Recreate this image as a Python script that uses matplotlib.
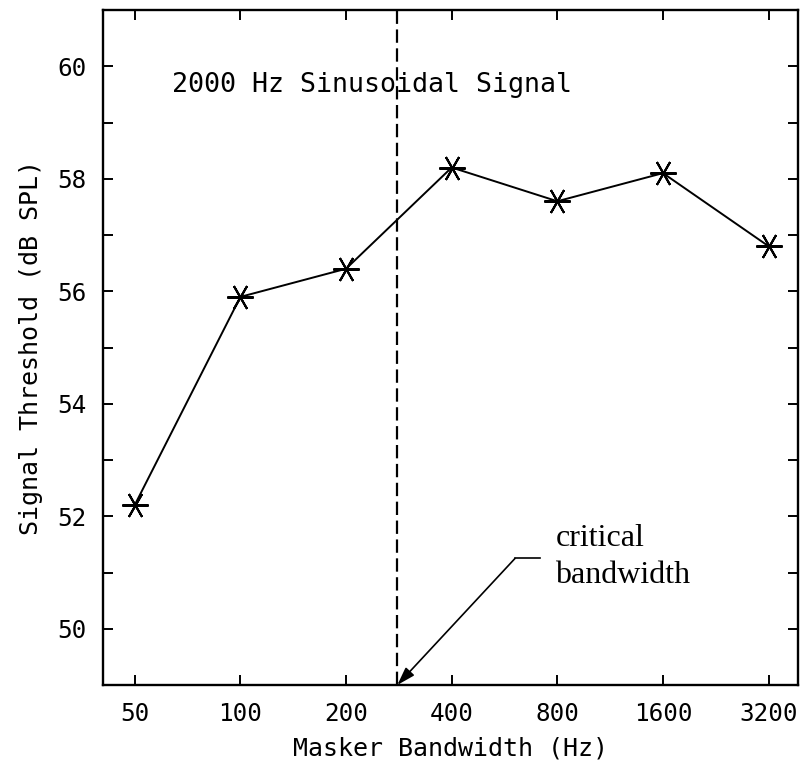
import matplotlib
matplotlib.use("Agg")
import matplotlib.pyplot as plt
import numpy as np

bandwidths = [50, 100, 200, 400, 800, 1600, 3200]
thresholds = [52.2, 55.9, 56.4, 58.2, 57.6, 58.1, 56.8]
tick_labels = ["50", "100", "200", "400", "800", "1600", "3200"]
critical_bw = 280
y_major = [50, 52, 54, 56, 58, 60]
y_minor = [49, 51, 53, 55, 57, 59, 61]

mono = ["DejaVu Sans Mono"]
serif = ["Liberation Serif"]

fig = plt.figure(figsize=(8.01, 7.70), dpi=100)
ax = fig.add_axes([103/801, 1-685/770, (798-103)/801, (685-10)/770])

ax.set_xscale("log", base=2)
ax.set_xlim(40.6, 3880)
ax.set_ylim(49, 61)

ax.plot(bandwidths, thresholds, color="black", lw=1.4,
        marker=(6, 2, 90), markersize=19, markeredgewidth=1.5, zorder=3)

ax.axvline(critical_bw, color="black", lw=1.6, dashes=(6, 2.5))

ax.set_xticks(bandwidths)
ax.set_xticklabels(tick_labels, family=mono, fontsize=17.5)
ax.xaxis.set_minor_locator(matplotlib.ticker.NullLocator())
ax.set_yticks(y_major)
ax.set_yticklabels([str(v) for v in y_major], family=mono, fontsize=17.5)
ax.set_yticks(y_minor, minor=True)

ax.tick_params(which="both", direction="in", top=True, right=True,
               length=7, width=1.4, pad=12)
for s in ax.spines.values():
    s.set_linewidth(1.7)

ax.set_xlabel("Masker Bandwidth (Hz)", family=mono, fontsize=18, labelpad=8)
ax.set_ylabel("Signal Threshold (dB SPL)", family=mono, fontsize=18, labelpad=10)

ax.text(64, 59.67, "2000 Hz Sinusoidal Signal", family=mono, fontsize=19.2,
        va="center", ha="left")

ax.text(790, 51.6, "critical", family=serif, fontsize=23, va="center", ha="left")
ax.text(790, 50.95, "bandwidth", family=serif, fontsize=23, va="center", ha="left")

ax.plot([606, 716], [51.25, 51.25], color="black", lw=1.2)
ax.annotate("", xy=(critical_bw, 49), xytext=(606, 51.25),
            arrowprops=dict(arrowstyle="-|>,head_length=1.1,head_width=0.35",
                            color="black", lw=1.2, shrinkA=0, shrinkB=0),
            annotation_clip=False)

fig.savefig("out.png", dpi=100)
